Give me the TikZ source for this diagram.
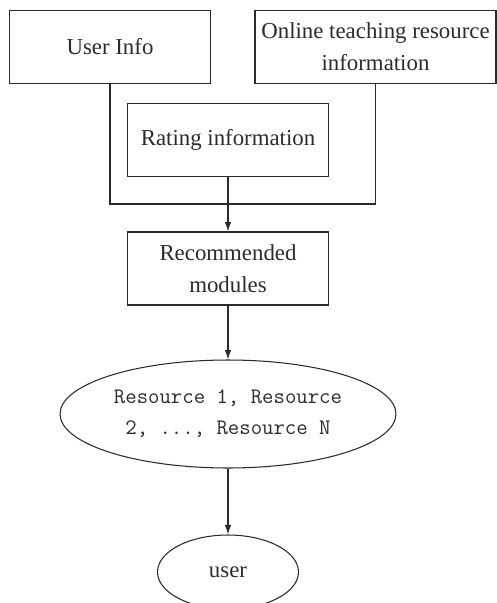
\documentclass[tikz,border=0pt]{standalone}
\usepackage{fontspec}
\setmainfont{Liberation Serif}
\usetikzlibrary{shapes.geometric,arrows.meta}
\definecolor{ink}{HTML}{2B2B2B}

\begin{document}
\begin{tikzpicture}[x=0.02cm,y=-0.02cm,
    every node/.style={text=ink,font=\fontsize{13}{18.2}\selectfont,align=center},
    box/.style={draw=ink,line width=0.6pt,inner sep=0pt,minimum width=4.02cm,minimum height=1.46cm},
    oval/.style={draw=ink,line width=0.6pt,ellipse,inner sep=0pt},
    arr/.style={-{Latex[length=5.5pt,width=3.8pt]}}]
  \useasboundingbox (0,0) rectangle (497,603);
  % input boxes
  \node[box] (userinfo) at (110,47) {User Info};
  \node[box,minimum width=4.82cm] (online) at (375.5,47) {Online teaching resource\\information};
  \node[box] (rating) at (228,140) {Rating information};
  \coordinate (join) at (228,204);
  % recommendation and output
  \node[box] (recom) at (228,268.5) {Recommended\\modules};
  \node[oval,minimum width=6.72cm,minimum height=2.16cm,
        font=\ttfamily\fontsize{12.6}{17.6}\selectfont] (res) at (228,414)
        {Resource 1, Resource\\2, ..., Resource N};
  \node[oval,minimum width=2.82cm,minimum height=1.48cm] (user) at (228,572) {user};
  % connectors
  \draw[ink,line width=0.6pt] (userinfo.south) |- (join) -| (online.south);
  \draw[ink,line width=0.6pt] (rating.south) -- (join);
  \draw[ink,line width=0.6pt,arr] (join) -- (recom.north);
  \draw[ink,line width=0.6pt,arr] (recom.south) -- (res.north);
  \draw[ink,line width=0.6pt,arr] (res.south) -- (user.north);
\end{tikzpicture}
\end{document}
